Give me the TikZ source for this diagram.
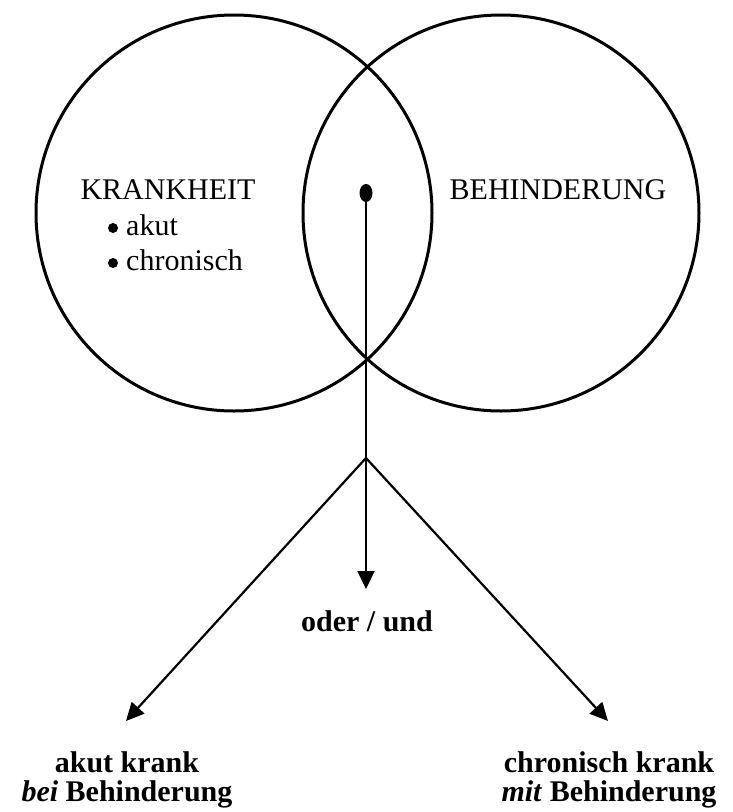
\documentclass[tikz,border=0pt]{standalone}
\usepackage{fontspec}
\setmainfont{Liberation Serif}
\usetikzlibrary{arrows.meta,shapes.geometric}
\tikzset{
  venn/.style={circle, draw, line width=3pt, minimum size=396pt, inner sep=0pt},
  lbl/.style={inner sep=0pt, anchor=base, font=\fontsize{30}{34}\selectfont},
  lblw/.style={inner sep=0pt, anchor=base west, font=\fontsize{30}{34}\selectfont},
  blbl/.style={inner sep=0pt, anchor=base, font=\fontsize{30}{34}\selectfont\bfseries},
  bul/.style={circle, fill, minimum size=10pt, inner sep=0pt},
  arr/.style={line width=2.2pt, -{Triangle[length=18pt,width=17pt]}},
}
\begin{document}
\begin{tikzpicture}[x=1pt,y=-1pt]
\useasboundingbox (0,0) rectangle (733,812);
\node[venn] (K) at (234,213) {};
\node[venn] (B) at (501,213) {};
\node[lbl] (kt) at (168,199) {KRANKHEIT};
\node[bul] (b1) at (113,228) {};
\node[lblw] (k1) at (126,235) {akut};
\node[bul] (b2) at (113,263) {};
\node[lblw] (k2) at (126,270) {chronisch};
\node[lbl] (bt) at (558,199) {BEHINDERUNG};
\node[ellipse, fill, minimum width=13pt, minimum height=18pt, inner sep=0pt] (dot) at (366,193) {};
\coordinate (br) at (366,458);
\coordinate (tipM) at (366,589);
\coordinate (tipL) at (126,721);
\coordinate (tipR) at (608,721);
\draw[arr] (dot.center) -- (tipM);
\draw[arr] (br) -- (tipL);
\draw[arr] (br) -- (tipR);
\node[blbl] (ou) at (367,631) {oder / und};
\node[blbl] (a1) at (127,772) {akut krank};
\node[blbl] (a2) at (127,801) {\textit{bei} Behinderung};
\node[blbl] (c1) at (609,772) {chronisch krank};
\node[blbl] (c2) at (609,801) {\textit{mit} Behinderung};
\end{tikzpicture}
\end{document}
